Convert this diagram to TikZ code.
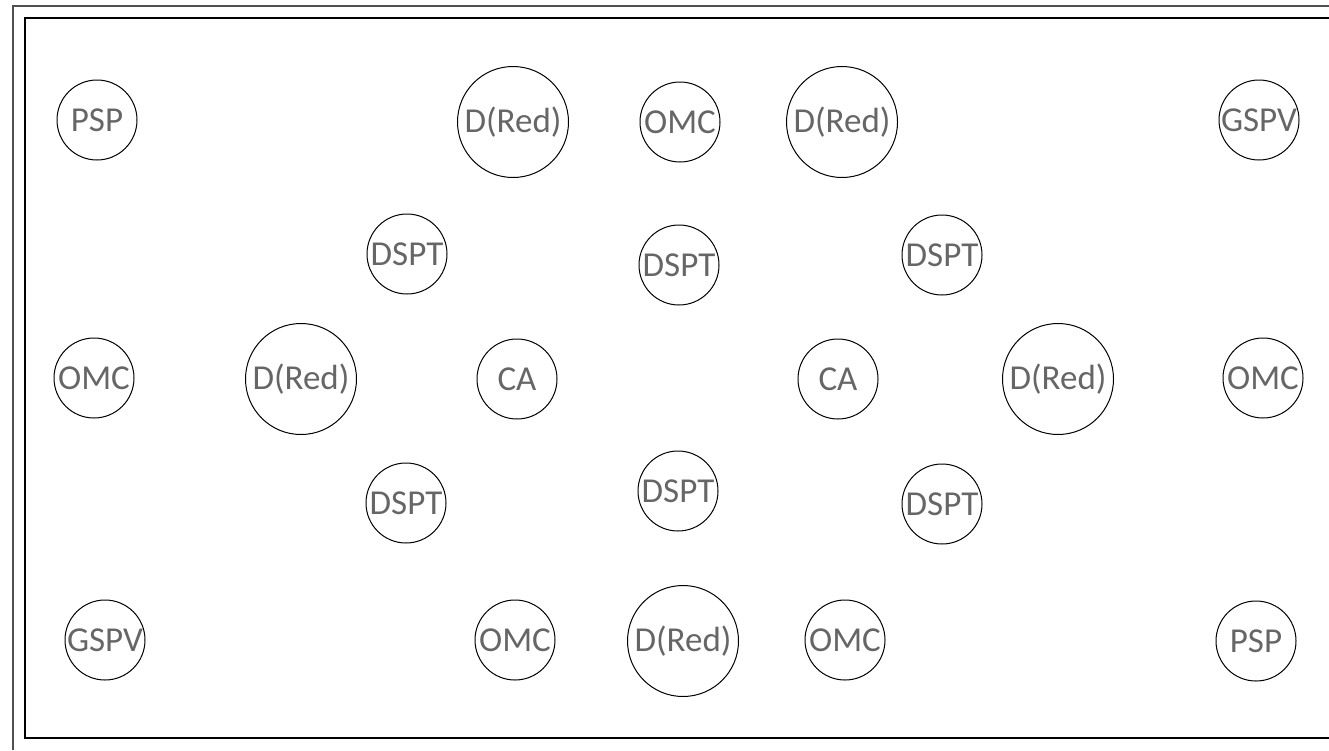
\documentclass[tikz,border=0pt]{standalone}
\usepackage{fontspec}
\setmainfont{Carlito}
\definecolor{txtgray}{RGB}{102,102,102}
\definecolor{framegray}{RGB}{80,80,80}
\begin{document}
\begin{tikzpicture}[x=1pt,y=-1pt,
  small/.style={circle,draw=black,line width=1pt,inner sep=0pt,minimum size=80pt,
    text=txtgray,font=\fontsize{35}{37}\selectfont},
  big/.style={small,minimum size=111pt}]
\useasboundingbox (0,0) rectangle (1329,750);
% frames
\coordinate (o1) at (13,750);
\coordinate (o2) at (13,6);
\coordinate (o3) at (1329,6);
\draw[framegray,line width=1.4pt] (o1) -- (o2) -- (o3);
\coordinate (i1) at (1329,738);
\coordinate (i2) at (25,738);
\coordinate (i3) at (25,18);
\coordinate (i4) at (1329,18);
\draw[black,line width=1.2pt] (i1) -- (i2) -- (i3) -- (i4);
% row 1
\node[small] (psp1) at (97,120) {PSP};
\node[big] (dr1) at (513,122) {D(Red)};
\node[small] (omc1) at (680,122) {OMC};
\node[big] (dr2) at (842,122) {D(Red)};
\node[small] (gspv1) at (1259,120) {GSPV};
% row 2
\node[small] (dspt1) at (407,254) {DSPT};
\node[small] (dspt2) at (679,265) {DSPT};
\node[small] (dspt3) at (942,255) {DSPT};
% row 3
\node[small] (omc2) at (94,378) {OMC};
\node[big] (dr3) at (301,379) {D(Red)};
\node[small] (ca1) at (517,379) {CA};
\node[small] (ca2) at (838,379) {CA};
\node[big] (dr4) at (1058,379) {D(Red)};
\node[small] (omc3) at (1263,378) {OMC};
% row 4
\node[small] (dspt4) at (406,503) {DSPT};
\node[small] (dspt5) at (678,491) {DSPT};
\node[small] (dspt6) at (942,504) {DSPT};
% row 5
\node[small] (gspv2) at (105,640) {GSPV};
\node[small] (omc4) at (515,640) {OMC};
\node[big] (dr5) at (683,641) {D(Red)};
\node[small] (omc5) at (845,640) {OMC};
\node[small] (psp2) at (1256,641) {PSP};
\end{tikzpicture}
\end{document}
